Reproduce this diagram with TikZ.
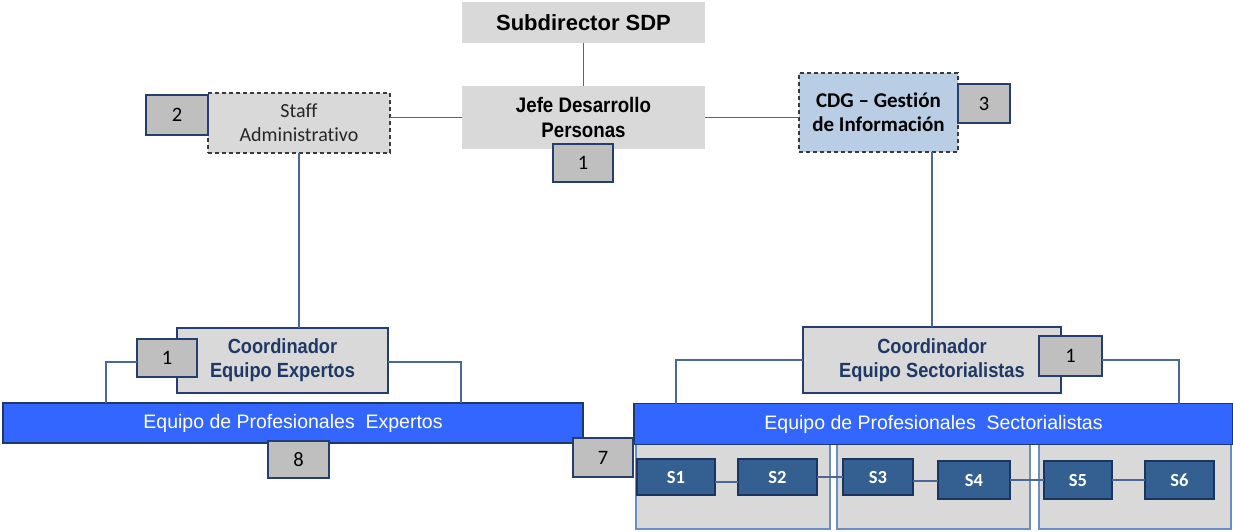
\documentclass[tikz,border=0pt]{standalone}
\usepackage{fontspec}
\setmainfont{Liberation Sans}
\newfontfamily\narrowf[FakeStretch=0.89]{Liberation Sans}
\newfontfamily\calib[Ligatures={NoCommon,NoRare,NoDiscretionary}]{Carlito}
\usetikzlibrary{calc}
\definecolor{boxgray}{HTML}{D9D9D9}
\definecolor{numgray}{HTML}{BFBFBF}
\definecolor{navyb}{HTML}{243F6E}
\definecolor{navyt}{HTML}{1F3864}
\definecolor{cdgblue}{HTML}{B9CDE5}
\definecolor{barblue}{HTML}{3366FF}
\definecolor{barborder}{HTML}{203864}
\definecolor{sblue}{HTML}{335F91}
\definecolor{sborder}{HTML}{1B3560}
\definecolor{grpc}{HTML}{6B8FC5}
\definecolor{linec}{HTML}{4A6896}
\definecolor{dashc}{HTML}{3A3A3A}
\begin{document}
\begin{tikzpicture}[x=1pt,y=-1pt,
  every node/.style={inner sep=0pt,outer sep=0pt},
  wh/.style 2 args={minimum width=#1pt,minimum height=#2pt},
  conn/.style={draw=linec,line width=1.5pt},
  topbox/.style={fill=boxgray,align=center,font=\narrowf\bfseries\fontsize{21}{25}\selectfont},
  numbox/.style={fill=numgray,draw=navyb,line width=1.3pt,font=\calib\fontsize{20.5}{24}\selectfont},
  dashbox/.style={draw=dashc,dash pattern=on 4pt off 3pt,line width=1.3pt,align=center},
  coordbox/.style={fill=boxgray,draw=navyb,line width=1.3pt,align=center,text=navyt,font=\narrowf\bfseries\fontsize{20.5}{24}\selectfont},
  barbox/.style={fill=barblue,draw=barborder,line width=1.3pt,text=white,font=\fontsize{19.5}{24}\selectfont},
  grpbox/.style={fill=boxgray,draw=grpc,line width=2pt},
  sbox/.style={fill=sblue,draw=sborder,line width=1.3pt,text=white,font=\calib\bfseries\fontsize{18.5}{22}\selectfont}
]
\useasboundingbox (0,0) rectangle (1233,531);

% top level
\node[topbox,wh={243}{41},font=\bfseries\fontsize{22}{26}\selectfont] (sub) at (583.5,22.5) {Subdirector SDP};
\node[topbox,wh={243}{63}] (jefe) at (583.5,117.5) {Jefe Desarrollo\\Personas};
\node[numbox,wh={60}{38}] (n1a) at (583,163) {1};

\node[dashbox,fill=boxgray,wh={182}{60},text=black!85,font=\calib\fontsize{20}{24}\selectfont] (staff) at (299,123) {Staff\\Administrativo};
\node[numbox,wh={62}{40}] (n2) at (177,115) {2};

\node[dashbox,fill=cdgblue,wh={159}{79},font=\calib\bfseries\fontsize{21}{24}\selectfont] (cdg) at (878.5,112.5) {CDG – Gestión\\de Información};
\node[numbox,wh={52}{39}] (n3) at (984,103.5) {3};

% coordinators
\node[coordbox,wh={211}{65}] (ce) at (282.5,360.5) {Coordinador\\Equipo Expertos};
\node[numbox,wh={60}{38}] (n1b) at (167,358) {1};
\node[coordbox,wh={258}{66}] (cs) at (932,360) {Coordinador\\Equipo Sectorialistas};
\node[numbox,wh={63}{40}] (n1c) at (1070.5,356) {1};

% sector groups
\node[grpbox,wh={194}{85}] (g1) at (733,486.5) {};
\node[grpbox,wh={193}{85}] (g2) at (933.5,486.5) {};
\node[grpbox,wh={192}{85}] (g3) at (1135,486.5) {};

% bars
\node[barbox,wh={580}{40}] (bexp) at (293,423) {Equipo de Profesionales\ \ Expertos};
\node[barbox,wh={599}{41}] (bsec) at (933.5,424) {Equipo de Profesionales\ \ Sectorialistas};
\node[numbox,wh={61}{37}] (n8) at (298.5,459.5) {8};
\node[numbox,wh={60}{39}] (n7) at (603,457.5) {7};

% S boxes
\node[sbox,wh={78}{36}] (s1) at (676,477) {S1};
\node[sbox,wh={79}{36}] (s2) at (777.5,477) {S2};
\node[sbox,wh={70}{36}] (s3) at (878,477) {S3};
\node[sbox,wh={72}{38}] (s4) at (974,480) {S4};
\node[sbox,wh={68}{38}] (s5) at (1078,480) {S5};
\node[sbox,wh={69}{38}] (s6) at (1179.5,480) {S6};

% connectors
\draw[conn] (sub.south) -- (jefe.north);
\draw[conn] (jefe.west) -- (jefe.west -| staff.east);
\draw[conn] (jefe.east) -- (jefe.east -| cdg.west);
\draw[conn] (staff.south) -- (staff.south |- ce.north);
\draw[conn] (cs.north) -- (cs.north |- cdg.south);
\draw[conn] ([yshift=-4pt]n1b.west) -| ($(bexp.north west)+(103,0)$);
\draw[conn] ([yshift=-1.5pt]ce.east) -| ($(bexp.north west)+(458,0)$);
\draw[conn] (cs.west) -| ($(bsec.north west)+(42,0)$);
\draw[conn] ([yshift=-4pt]n1c.east) -| ($(bsec.north east)+(-54,0)$);
\draw[conn] ([yshift=-5pt]s1.east) -- ([yshift=-5pt]s2.west);
\draw[conn] (s2.east) -- (s3.west);
\draw[conn] ([yshift=-4pt]s3.east) -- ([yshift=-1pt]s4.west);
\draw[conn] (s4.east) -- (s5.west);
\draw[conn] (s5.east) -- (s6.west);
\end{tikzpicture}
\end{document}
